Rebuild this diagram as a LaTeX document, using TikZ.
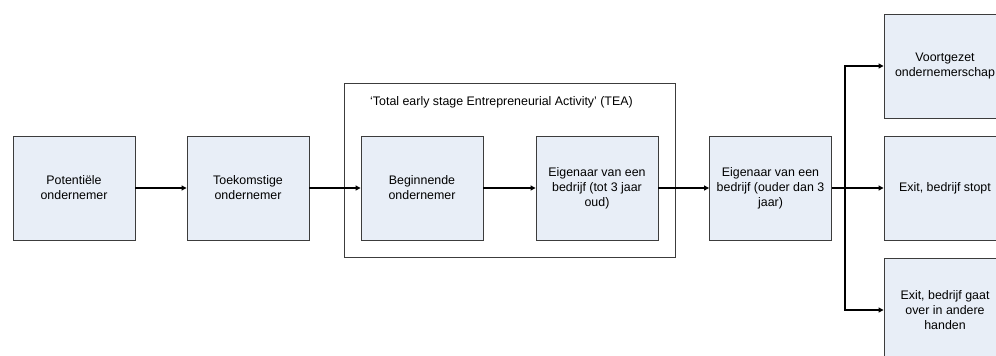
\documentclass[tikz,border=0pt]{standalone}
\usepackage{fontspec}
\setmainfont{Liberation Sans}
\usetikzlibrary{arrows.meta}
\definecolor{boxfill}{RGB}{232,238,247}
\definecolor{boxline}{RGB}{60,60,60}
\begin{document}
\begin{tikzpicture}[x=1pt,y=-1pt,
  stagebox/.style={draw=boxline,line width=0.9pt,fill=boxfill,minimum width=122pt,minimum height=104pt,
    inner sep=2pt,align=center,font=\fontsize{12.4}{15}\selectfont},
  arr/.style={line width=1.1pt,-{Triangle[length=5pt,width=5pt]}}]
\useasboundingbox (0,0) rectangle (996,356);
\node[draw=boxline,line width=0.9pt,minimum width=331pt,minimum height=174pt] (tea) at (509.5,170) {};
\node[anchor=west,font=\fontsize{12.4}{15}\selectfont,inner sep=0pt] (tealbl) at (370,102) {‘Total early stage Entrepreneurial Activity’ (TEA)};
\node[stagebox] (b1) at (74,188) {Potentiële\\ondernemer};
\node[stagebox] (b2) at (248,188) {Toekomstige\\ondernemer};
\node[stagebox] (b3) at (422,188) {Beginnende\\ondernemer};
\node[stagebox] (b4) at (597,188) {Eigenaar van een\\bedrijf (tot 3 jaar\\oud)};
\node[stagebox] (b5) at (770.5,188) {Eigenaar van een\\bedrijf (ouder dan 3\\jaar)};
\node[stagebox] (r1) at (945,66) {Voortgezet\\ondernemerschap};
\node[stagebox] (r2) at (945,188) {Exit, bedrijf stopt};
\node[stagebox] (r3) at (945,310) {Exit, bedrijf gaat\\over in andere\\handen};
\coordinate (br) at (845,188);
\draw[arr] (b1) -- (b2);
\draw[arr] (b2) -- (b3);
\draw[arr] (b3) -- (b4);
\draw[arr] (b4) -- (b5);
\draw[arr] (b5) -- (r2);
\draw[arr] (br) |- (r1.west);
\draw[arr] (br) |- (r3.west);
\end{tikzpicture}
\end{document}
